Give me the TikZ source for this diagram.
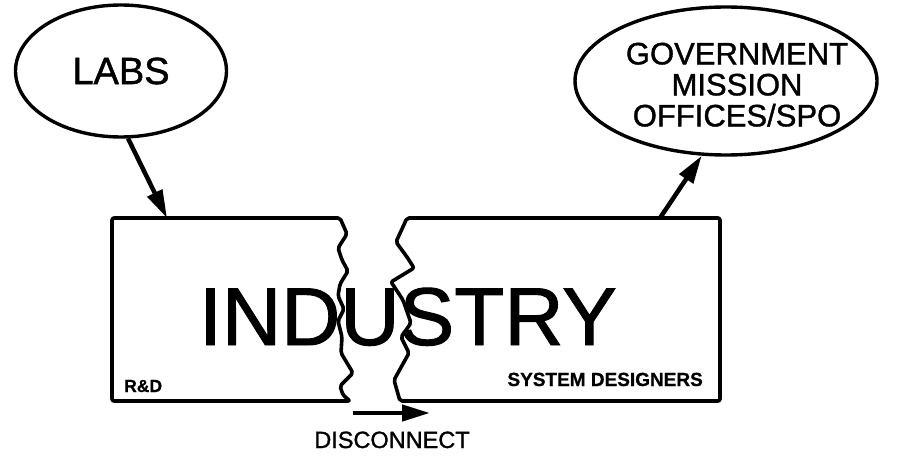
\documentclass[tikz,border=0pt]{standalone}
\usepackage{fontspec}
\setmainfont{Liberation Sans}
\newfontfamily\heavy{Liberation Sans}[FakeBold=1.2]
\newfontfamily\heavybold{Liberation Sans Bold}[FakeBold=0.8]
\usetikzlibrary{shapes.geometric,arrows.meta}
\begin{document}
\begin{tikzpicture}[x=1pt,y=-1pt,
  oval/.style={draw,ellipse,line width=3.4pt,inner sep=0pt},
  piece/.style={line width=3.6pt,line join=round,rounded corners=2pt},
  arr/.style={line width=4.5pt,-{Triangle[length=28pt,width=16pt]}},
  lbl/.style={inner sep=0pt}]
\useasboundingbox (0,0) rectangle (912,465);
% ovals
\node[oval,minimum width=211pt,minimum height=132pt,font=\heavy\fontsize{38}{40}\selectfont] (labs) at (121,71) {LABS};
\node[oval,minimum width=302pt,minimum height=148pt] (gov) at (726,81) {};
\node[lbl,anchor=north,align=center,font=\heavy\fontsize{31}{31}\selectfont] (govtext) at (737,42.5) {GOVERNMENT\\MISSION\\OFFICES/SPO};
% broken box
\draw[piece] (350,401) -- (112,401) -- (112,218) -- (340,218) -- (347,234) -- (338,248) -- (342,260) -- (348,271) -- (340,284) -- (338,296) -- (344,309) -- (338,321) -- (342,337) -- (341,353) -- (353,373) -- (340,386) -- (343,395) -- cycle;
\draw[piece] (407,218) -- (720,218) -- (720,401) -- (400,401) -- (394,380) -- (409,353) -- (401,337) -- (411,323) -- (403,300) -- (391,282) -- (414,268) -- (407,257) -- (396,242) -- cycle;
\coordinate (ltop) at (167,218);
\coordinate (rtop) at (660,218);
\node[lbl,anchor=base,font=\heavy\fontsize{82}{82}\selectfont] (ind) at (408,345) {INDUSTRY};
\node[lbl,anchor=base west,font=\heavybold\fontsize{17.5}{18}\selectfont] (rd) at (124,392) {R\&D};
\node[lbl,anchor=base east,font=\heavybold\fontsize{19}{20}\selectfont] (sys) at (703,386) {SYSTEM DESIGNERS};
% arrows
\draw[arr] (labs.276) -- (ltop);
\draw[arr] (rtop) -- (gov.252);
\coordinate (d1) at (353,413);
\coordinate (d2) at (430,413);
\draw[arr] (d1) -- (d2);
\node[lbl,anchor=base,font=\heavy\fontsize{23.5}{24}\selectfont] (disc) at (392,448) {DISCONNECT};
\end{tikzpicture}
\end{document}
